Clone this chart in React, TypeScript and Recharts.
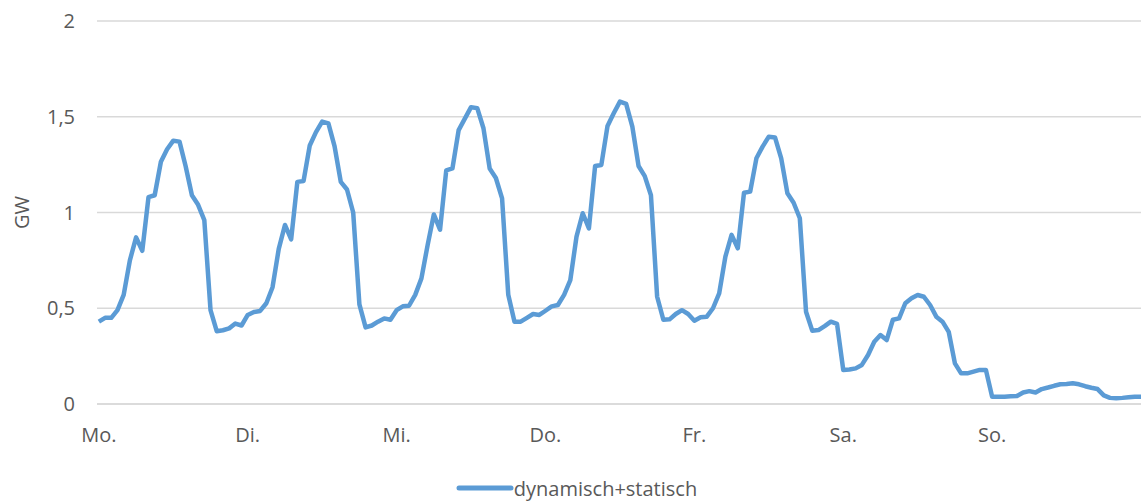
import { CartesianGrid, Label, Legend, Line, LineChart, XAxis, YAxis } from "recharts";

const dayLabels = ["Mo.", "Di.", "Mi.", "Do.", "Fr.", "Sa.", "So."];

// hourly load in GW, one array per day (hour 0..23)
const mo = [0.43, 0.45, 0.45, 0.49, 0.57, 0.75, 0.87, 0.8, 1.08, 1.09, 1.265, 1.33, 1.375, 1.37, 1.24, 1.09, 1.04, 0.96, 0.49, 0.38, 0.385, 0.395, 0.42, 0.41];
const di = [0.465, 0.48, 0.486, 0.526, 0.61, 0.81, 0.935, 0.86, 1.16, 1.165, 1.35, 1.42, 1.475, 1.465, 1.345, 1.16, 1.12, 1.0, 0.52, 0.4, 0.41, 0.43, 0.447, 0.44];
const mi = [0.49, 0.51, 0.513, 0.57, 0.656, 0.83, 0.99, 0.91, 1.22, 1.23, 1.43, 1.49, 1.55, 1.545, 1.44, 1.23, 1.18, 1.074, 0.57, 0.43, 0.43, 0.45, 0.47, 0.465];
const dOn = [0.487, 0.51, 0.517, 0.57, 0.647, 0.874, 0.996, 0.917, 1.243, 1.248, 1.452, 1.518, 1.579, 1.567, 1.448, 1.243, 1.19, 1.09, 0.56, 0.44, 0.442, 0.47, 0.49, 0.47];
const fr = [0.435, 0.453, 0.456, 0.5, 0.578, 0.77, 0.883, 0.813, 1.103, 1.109, 1.283, 1.344, 1.396, 1.392, 1.283, 1.1, 1.051, 0.97, 0.482, 0.383, 0.386, 0.407, 0.43, 0.418];
const sa = [0.178, 0.18, 0.186, 0.204, 0.256, 0.325, 0.36, 0.334, 0.44, 0.447, 0.526, 0.552, 0.569, 0.56, 0.517, 0.456, 0.43, 0.377, 0.212, 0.16, 0.16, 0.169, 0.178, 0.178];
const so = [0.038, 0.038, 0.038, 0.04, 0.042, 0.06, 0.067, 0.06, 0.078, 0.086, 0.095, 0.103, 0.104, 0.108, 0.103, 0.093, 0.085, 0.078, 0.045, 0.032, 0.03, 0.032, 0.035, 0.038];
const endValue = 0.038;

const yTicks = [0, 0.5, 1, 1.5, 2];
const seriesName = "dynamisch+statisch";

const hourly = [...mo, ...di, ...mi, ...dOn, ...fr, ...sa, ...so, endValue];
const data = hourly.map((gw, hour) => ({ hour, gw }));
const dayTicks = dayLabels.map((_, i) => i * 24);

const font = '"Open Sans", sans-serif';
const textColor = "#595959";
const gridColor = "#d9d9d9";
const blue = "#5b9bd5";

function LegendContent() {
  return (
    <div
      style={{
        display: "flex",
        justifyContent: "center",
        alignItems: "center",
        height: 40,
        paddingTop: 12,
        paddingLeft: 12,
        boxSizing: "border-box",
        fontFamily: font,
        fontSize: 20,
        color: textColor
      }}
    >
      <svg width={58} height={8}>
        <line x1={3} y1={4} x2={55} y2={4} stroke={blue} strokeWidth={5} strokeLinecap="round" />
      </svg>
      <span>{seriesName}</span>
    </div>
  );
}

export default function App() {
  return (
    <div style={{ position: "absolute", left: 0, top: 0, background: "#fff" }}>
      <LineChart width={1141} height={502} data={data} margin={{ top: 21, right: 0, left: 0, bottom: 0 }}>
        <CartesianGrid vertical={false} stroke={gridColor} strokeWidth={1.5} />
        <XAxis
          dataKey="hour"
          type="number"
          domain={[-0.3, 168]}
          ticks={dayTicks}
          interval={0}
          tickFormatter={h => dayLabels[Number(h) / 24]}
          axisLine={{ stroke: gridColor, strokeWidth: 1.5 }}
          tickLine={false}
          tickSize={0}
          tickMargin={24}
          height={58}
          tick={{ fontSize: 20, fill: textColor, fontFamily: font }}
        />
        <YAxis
          domain={[0, 2]}
          ticks={yTicks}
          interval={0}
          tickFormatter={v => String(v).replace(".", ",")}
          axisLine={false}
          tickLine={false}
          tickSize={0}
          tickMargin={22}
          width={97}
          tick={{ fontSize: 20, fill: textColor, fontFamily: font }}
        >
          <Label
            content={({ viewBox }) => {
              const vb = viewBox as { x: number; y: number; height: number };
              const cx = vb.x + 21;
              const cy = vb.y + vb.height / 2;
              return (
                <text
                  x={cx}
                  y={cy}
                  transform={`rotate(-90, ${cx}, ${cy})`}
                  textAnchor="middle"
                  dominantBaseline="central"
                  fontSize={20}
                  fill={textColor}
                  fontFamily={font}
                >
                  GW
                </text>
              );
            }}
          />
        </YAxis>
        <Legend verticalAlign="bottom" height={40} content={<LegendContent />} />
        <Line
          type="linear"
          dataKey="gw"
          name={seriesName}
          stroke={blue}
          strokeWidth={4.5}
          strokeLinejoin="round"
          dot={false}
          activeDot={false}
          isAnimationActive={false}
        />
      </LineChart>
    </div>
  );
}
